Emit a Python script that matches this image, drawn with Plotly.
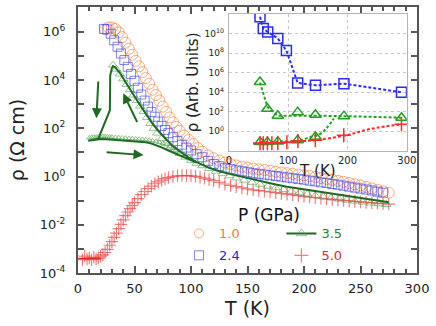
import plotly.graph_objects as go

# ---- main panel data: T in K, rho as log10 values ----
t_10 = [24, 27, 30, 33, 36, 39, 42, 45, 48, 51, 54, 57, 60, 63, 66, 69, 72, 75, 78, 81,
        84, 87, 90, 94, 98, 102, 106, 110, 115, 120, 125, 130, 135, 140, 145, 150, 155,
        160, 165, 170, 175, 180, 185, 190, 195, 200, 205, 210, 215, 220, 225, 230, 235,
        240, 245, 250, 255, 260, 265, 270, 275]
lr_10 = [6.1, 6.18, 6.18, 6.12, 5.98, 5.78, 5.55, 5.3, 5.05, 4.8, 4.57, 4.33, 4.08, 3.85,
         3.6, 3.38, 3.15, 2.9, 2.68, 2.45, 2.25, 2.06, 1.9, 1.7, 1.52, 1.35, 1.18, 1.03,
         0.88, 0.76, 0.66, 0.58, 0.52, 0.46, 0.41, 0.37, 0.33, 0.3, 0.27, 0.24, 0.2, 0.17,
         0.14, 0.11, 0.08, 0.05, 0.02, -0.02, -0.06, -0.1, -0.14, -0.18, -0.22, -0.27,
         -0.32, -0.37, -0.43, -0.49, -0.55, -0.61, -0.67]

t_24 = [23, 26, 29, 32, 35, 38, 41, 44, 47, 50, 53, 56, 59, 62, 65, 68, 71, 74, 77, 80,
        84, 88, 92, 96, 100, 105, 110, 115, 120, 125, 130, 135, 140, 145, 150, 155, 160,
        165, 170, 175, 180, 185, 190, 195, 200, 205, 210, 215, 220, 225, 230, 235, 240,
        245, 250, 255, 260, 265, 270]
lr_24 = [6.12, 6.1, 5.92, 5.65, 5.38, 5.1, 4.83, 4.55, 4.25, 3.97, 3.68, 3.4, 3.15, 2.9,
         2.68, 2.48, 2.28, 2.1, 1.93, 1.8, 1.63, 1.47, 1.32, 1.2, 1.08, 0.93, 0.8, 0.65,
         0.52, 0.43, 0.36, 0.31, 0.26, 0.22, 0.18, 0.14, 0.11, 0.08, 0.05, 0.02, -0.01,
         -0.04, -0.07, -0.1, -0.13, -0.17, -0.2, -0.24, -0.27, -0.31, -0.34, -0.38, -0.42,
         -0.46, -0.5, -0.54, -0.58, -0.63, -0.67]

# 3.5 GPa: cooling branch triangles
t_35_cool = [31, 34, 37, 40, 43, 46, 49, 52, 55, 58, 61, 64, 67, 70, 74, 78, 82, 86, 90,
             95, 100, 105, 110, 116, 122, 128, 134, 140, 147, 154, 161, 168, 175, 182,
             189, 196, 203, 210, 217, 224, 231, 238, 245, 252, 259, 266, 273]
lr_35_cool = [4.62, 4.45, 4.25, 4.05, 3.82, 3.6, 3.38, 3.15, 2.92, 2.7, 2.45, 2.2, 2.0,
              1.8, 1.57, 1.38, 1.22, 1.1, 0.95, 0.8, 0.67, 0.55, 0.45, 0.33, 0.22, 0.12,
              0.03, -0.06, -0.15, -0.24, -0.32, -0.4, -0.47, -0.54, -0.61, -0.67, -0.73,
              -0.79, -0.84, -0.89, -0.94, -0.98, -1.02, -1.06, -1.1, -1.13, -1.16]
# 3.5 GPa: warming branch triangles
t_35_warm = [10, 12, 14, 16, 18, 20, 22, 24, 26, 28, 30, 33, 36, 39, 42, 45, 48, 51, 54,
             57, 60, 63, 66, 69, 72, 75, 78, 81, 84, 87, 90, 94, 98]
lr_35_warm = [1.6, 1.62, 1.63, 1.64, 1.65, 1.66, 1.66, 1.65, 1.65, 1.64, 1.63, 1.62, 1.61,
              1.6, 1.59, 1.58, 1.57, 1.56, 1.55, 1.54, 1.53, 1.51, 1.49, 1.46, 1.42, 1.38,
              1.32, 1.25, 1.17, 1.1, 1.02, 0.92, 0.83]
# 3.5 GPa: solid curve, cooling down then warming back
t_35_line = [275, 265, 255, 245, 235, 225, 215, 205, 195, 185, 175, 165, 155, 145, 135,
             125, 115, 105, 97, 90, 83, 77, 71, 65, 59, 53, 47, 42, 37, 33, 31, 30, 28.5,
             28.2, 18, 12, 9, 12, 16, 20, 25, 30, 35, 40, 45, 50, 55, 60, 65, 70, 75, 80,
             85, 90, 95, 100, 105]
lr_35_line = [-1.07, -1.0, -0.93, -0.86, -0.79, -0.72, -0.65, -0.58, -0.5, -0.42, -0.33,
              -0.23, -0.12, -0.01, 0.1, 0.22, 0.38, 0.6, 0.82, 1.05, 1.3, 1.6, 1.9, 2.25,
              2.65, 3.1, 3.55, 3.95, 4.3, 4.52, 4.58, 4.5, 4.2, 2.75, 1.57, 1.5, 1.48, 1.52,
              1.54, 1.56, 1.55, 1.53, 1.51, 1.5, 1.49, 1.47, 1.45, 1.42, 1.37, 1.29, 1.19,
              1.08, 0.98, 0.88, 0.78, 0.68, 0.58]

t_50 = [4, 6, 8, 10, 12, 14, 16, 18, 20, 22, 24, 26, 28, 30, 32, 34, 36, 38, 40, 42, 44,
        46, 48, 50, 53, 56, 59, 62, 65, 68, 71, 74, 77, 80, 84, 88, 92, 96, 100, 104, 108,
        112, 116, 120, 125, 130, 135, 140, 145, 150, 155, 160, 165, 170, 175, 180, 185,
        190, 195, 200, 205, 210, 215, 220, 225, 230, 235, 240, 245, 250, 255, 260, 265,
        270, 275]
lr_50 = [-3.45, -3.3, -3.42, -3.38, -3.45, -3.35, -3.42, -3.38, -3.3, -3.25, -3.15, -3.02,
         -2.85, -2.7, -2.52, -2.35, -2.16, -1.98, -1.8, -1.62, -1.47, -1.33, -1.2, -1.08,
         -0.92, -0.75, -0.62, -0.5, -0.4, -0.3, -0.22, -0.15, -0.09, -0.04, 0.0, 0.03,
         0.04, 0.04, 0.03, 0.01, -0.03, -0.07, -0.12, -0.17, -0.24, -0.31, -0.37, -0.42,
         -0.47, -0.51, -0.55, -0.58, -0.61, -0.64, -0.67, -0.7, -0.73, -0.76, -0.79,
         -0.82, -0.85, -0.88, -0.9, -0.93, -0.95, -0.97, -0.99, -1.01, -1.03, -1.05,
         -1.07, -1.09, -1.1, -1.12, -1.14]
t_50_line = [0, 5, 10, 15, 20]
lr_50_line = [-3.4, -3.4, -3.4, -3.4, -3.4]

# arrows (tail -> head), T and log10(rho)
arrow_tail_t = [18, 53, 24]
arrow_tail_lr = [4.0, 2.2, 1.01]
arrow_head_t = [16.3, 40, 58]
arrow_head_lr = [2.42, 3.45, 0.89]

# ---- inset data ----
in_t_24 = [52.5, 58, 65.5, 82.5, 97, 116, 146, 194, 291]
in_lr_24 = [11.7, 10.5, 10.15, 9.5, 8.25, 4.95, 4.7, 4.87, 4.0]
in_t_35 = [52.5, 65, 82.5, 116, 146, 194, 291]
in_lr_35 = [5.04, 2.3, 1.6, 1.96, 1.7, 1.55, 1.39]
in_fit_t_35 = [52.5, 65, 82.5, 116, 146, 194, 291]
in_fit_lr_35 = [5.0, 2.5, 1.6, 1.62, 1.6, 1.55, 1.4]
in_t_35_low = [52.5, 65, 82.5, 116, 146]
in_lr_35_low = [-1.1, -1.1, -1.05, -0.9, -0.55]
in_fit_t_35_low = [52.5, 82.5, 116, 137, 154, 166, 177]
in_fit_lr_35_low = [-1.1, -1.05, -0.95, -0.6, -0.26, 0.42, 1.3]
in_t_50 = [52.5, 58, 65, 72.5, 82.5, 97.8, 116.4, 145.8, 193.7, 291]
in_lr_50 = [-1.22, -1.22, -1.22, -1.22, -1.22, -1.11, -1.0, -0.92, -0.41, 0.72]
in_fit_t_50 = [41, 82.5, 116, 146, 194, 240, 291]
in_fit_lr_50 = [-1.25, -1.2, -1.05, -0.9, -0.45, 0.26, 0.72]

ORANGE = "#f07f2a"
BLUE = "#1f1fdd"
GREEN = "#2a7f2a"
DKGREEN = "#1d6b22"
RED = "#e8262a"
C_OR = "rgba(245,130,60,0.65)"
C_BL = "rgba(50,50,235,0.6)"
C_GR = "rgba(80,160,80,0.6)"
C_RD = "rgba(235,60,60,0.65)"


def lin(v):
    return [10 ** a for a in v]


fig = go.Figure()

fig.add_trace(go.Scatter(x=t_50, y=lin(lr_50), mode="markers", showlegend=False,
                         marker=dict(symbol="cross-thin-open", size=9, color=C_RD,
                                     line=dict(width=1.2))))
fig.add_trace(go.Scatter(x=t_50_line, y=lin(lr_50_line), mode="lines", showlegend=False,
                         line=dict(color=RED, width=1.5)))
fig.add_trace(go.Scatter(x=t_10, y=lin(lr_10), mode="markers", showlegend=False,
                         marker=dict(symbol="circle-open", size=11, color=C_OR,
                                     line=dict(width=1))))
fig.add_trace(go.Scatter(x=t_24, y=lin(lr_24), mode="markers", showlegend=False,
                         marker=dict(symbol="square-open", size=9, color=C_BL,
                                     line=dict(width=1))))
fig.add_trace(go.Scatter(x=t_35_cool, y=lin(lr_35_cool), mode="markers", showlegend=False,
                         marker=dict(symbol="triangle-up-open", size=8, color=C_GR,
                                     line=dict(width=1))))
fig.add_trace(go.Scatter(x=t_35_warm, y=lin(lr_35_warm), mode="markers", showlegend=False,
                         marker=dict(symbol="triangle-up-open", size=5, color=C_GR,
                                     line=dict(width=1))))
fig.add_trace(go.Scatter(x=t_35_line, y=lin(lr_35_line), mode="lines", showlegend=False,
                         line=dict(color=DKGREEN, width=2)))

for tx, ty, hx, hy in zip(arrow_tail_t, arrow_tail_lr, arrow_head_t, arrow_head_lr):
    fig.add_annotation(x=hx, y=hy, ax=tx, ay=ty, xref="x", yref="y", axref="x", ayref="y",
                       text="", showarrow=True, arrowhead=2, arrowsize=1,
                       arrowwidth=2, arrowcolor=DKGREEN, standoff=0)

# legend entries
leg = [
    ("1.0", ORANGE, "markers", dict(symbol="circle-open", size=9, color=C_OR), "legend"),
    ("2.4", BLUE, "markers", dict(symbol="square-open", size=9, color=C_BL), "legend"),
    ("3.5", GREEN, "lines+markers", dict(symbol="triangle-up-open", size=9, color=C_GR), "legend2"),
    ("5.0", RED, "markers", dict(symbol="cross-thin-open", size=10, color=C_RD,
                                 line=dict(width=1.2)), "legend2"),
]
for name, col, mode, mk, lg in leg:
    fig.add_trace(go.Scatter(x=[None], y=[None], mode=mode, marker=mk,
                             line=dict(color=DKGREEN, width=2), legend=lg, legendgroup=name,
                             name="<span style='color:%s'>%s</span>" % (col, name)))

# inset
IBLUE = "#2b2bff"
IGREEN = "#22a022"
IRED = "#ff2a2a"
fig.add_trace(go.Scatter(x=in_t_24, y=lin(in_lr_24), xaxis="x2", yaxis="y2", mode="lines+markers",
                         showlegend=False, line=dict(color=IBLUE, width=2, dash="3px,2px"),
                         marker=dict(symbol="square-open", size=10, color=IBLUE,
                                     line=dict(width=1.5))))
fig.add_trace(go.Scatter(x=in_fit_t_35, y=lin(in_fit_lr_35), xaxis="x2", yaxis="y2", mode="lines",
                         showlegend=False, line=dict(color=IGREEN, width=2, dash="3px,2px")))
fig.add_trace(go.Scatter(x=in_fit_t_35_low, y=lin(in_fit_lr_35_low), xaxis="x2", yaxis="y2",
                         mode="lines", showlegend=False,
                         line=dict(color=IGREEN, width=2, dash="3px,2px", shape="spline")))
fig.add_trace(go.Scatter(x=in_t_35 + in_t_35_low, y=lin(in_lr_35 + in_lr_35_low), xaxis="x2",
                         yaxis="y2", mode="markers", showlegend=False,
                         marker=dict(symbol="triangle-up-open", size=10, color=IGREEN,
                                     line=dict(width=1.5))))
fig.add_trace(go.Scatter(x=in_fit_t_50, y=lin(in_fit_lr_50), xaxis="x2", yaxis="y2", mode="lines",
                         showlegend=False,
                         line=dict(color=IRED, width=2, dash="3px,2px", shape="spline")))
fig.add_trace(go.Scatter(x=in_t_50, y=lin(in_lr_50), xaxis="x2", yaxis="y2", mode="markers",
                         showlegend=False,
                         marker=dict(symbol="cross-thin-open", size=10, color=IRED,
                                     line=dict(width=1.5))))

fig.add_annotation(text="P (GPa)", xref="paper", yref="paper", x=0.563, y=0.218,
                   xanchor="center", yanchor="middle",
                   showarrow=False, font=dict(size=17, color="#111"))

axcol = "#555555"
y_main_vals = [10 ** k for k in range(-4, 7)]
y_main_text = ["10<sup>%d</sup>" % k if k % 2 == 0 else "" for k in range(-4, 7)]
y_in_vals = [10 ** k for k in range(0, 12, 2)]
y_in_text = ["10<sup>%d</sup>" % k for k in range(0, 12, 2)]

fig.update_layout(
    width=436, height=326,
    margin=dict(l=78, r=19, t=7, b=53, autoexpand=False),
    paper_bgcolor="white", plot_bgcolor="white",
    font=dict(family="DejaVu Sans", color="#222"),
    xaxis=dict(range=[0, 300], tickvals=[0, 50, 100, 150, 200, 250, 300], automargin=False,
               ticks="inside", ticklen=7, tickwidth=1.5, tickcolor=axcol,
               minor=dict(dtick=10, tick0=0, ticks="inside", ticklen=4, tickcolor=axcol),
               showline=True, linecolor=axcol, linewidth=2, mirror="allticks",
               showgrid=False, zeroline=False, tickfont=dict(size=13), ticklabelstandoff=2,
               title=dict(text="T (K)", font=dict(size=19), standoff=7)),
    yaxis=dict(type="log", range=[-4, 7.03], tickvals=y_main_vals, ticktext=y_main_text,
               automargin=False,
               ticks="inside", ticklen=6, tickwidth=1.5, tickcolor=axcol,
               showline=True, linecolor=axcol, linewidth=2, mirror="allticks",
               showgrid=False, zeroline=False, tickfont=dict(size=13), ticklabelstandoff=8,
               title=dict(text="ρ (Ω cm)", font=dict(size=19), standoff=10)),
    xaxis2=dict(domain=[0.445, 0.97], anchor="y2", range=[0, 300], automargin=False,
                tickvals=[0, 100, 200, 300], ticks="", showline=True, linecolor="#b5b5b5",
                linewidth=1, mirror=True, showgrid=True, gridcolor="#c8c8c8", griddash="dot",
                zeroline=False, tickfont=dict(size=10), ticklabelstandoff=0,
                title=dict(text="T (K)", font=dict(size=15), standoff=0)),
    yaxis2=dict(domain=[0.459, 0.974], anchor="x2", type="log", range=[-2, 12],
                automargin=False,
                tickvals=y_in_vals, ticktext=y_in_text, ticks="", showline=True,
                linecolor="#b5b5b5", linewidth=1, mirror=True, showgrid=True,
                gridcolor="#c8c8c8", griddash="dot", zeroline=False,
                tickfont=dict(size=9), ticklabelstandoff=2,
                title=dict(text="ρ (Arb. Units)", font=dict(size=15), standoff=2)),
    legend=dict(x=0.298, y=0.205, xanchor="left", yanchor="top", bgcolor="rgba(0,0,0,0)",
                font=dict(size=13), traceorder="grouped", tracegroupgap=2),
    legend2=dict(x=0.60, y=0.205, xanchor="left", yanchor="top", bgcolor="rgba(0,0,0,0)",
                 font=dict(size=13), traceorder="grouped", tracegroupgap=2),
)

fig.write_html("out.html", config={"displayModeBar": False},
               post_script="document.body.style.margin='0';")
